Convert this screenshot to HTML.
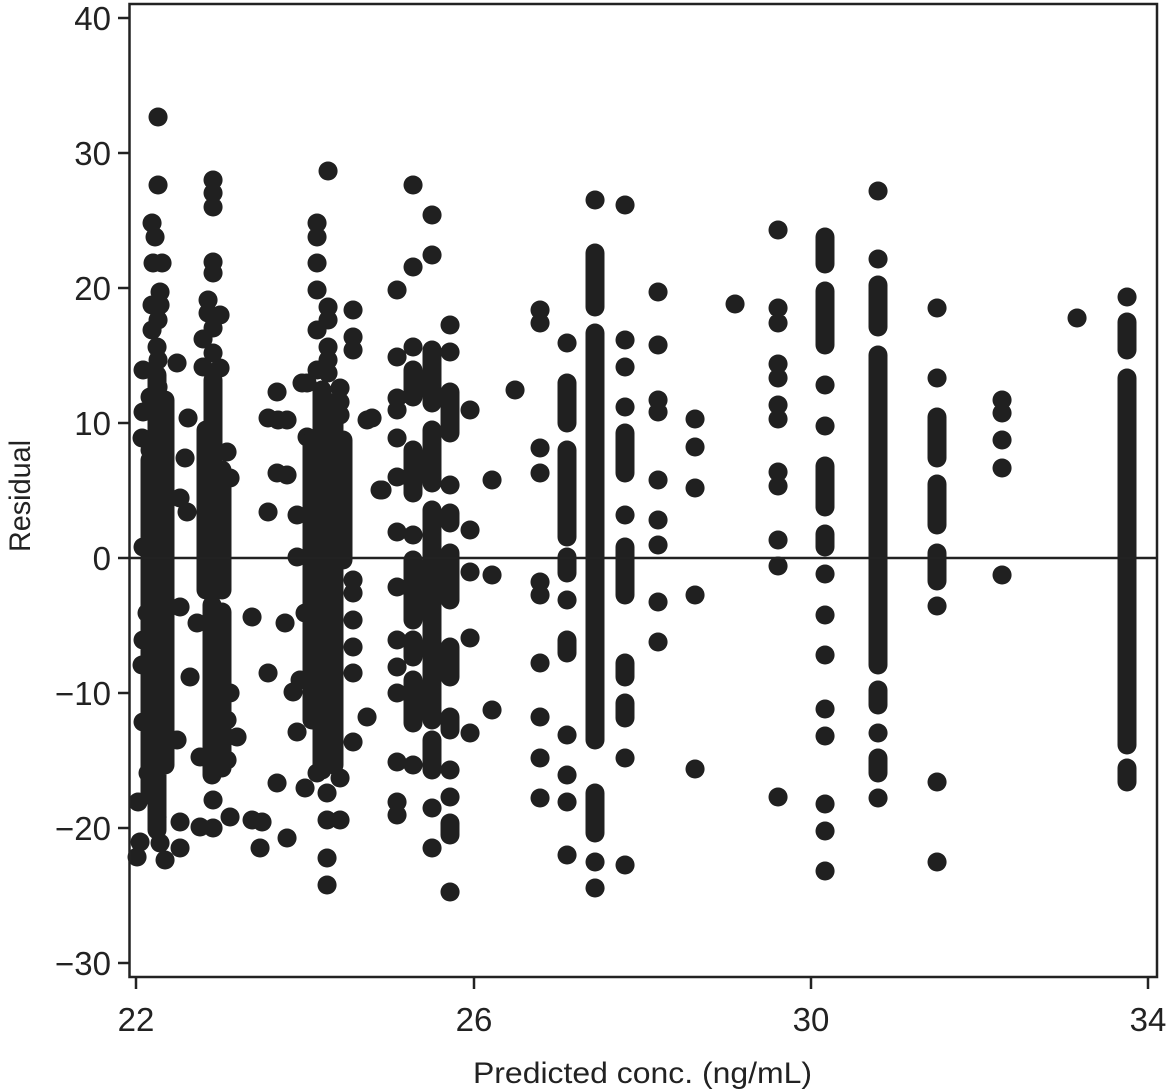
<!DOCTYPE html>
<html><head><meta charset="utf-8"><style>
html,body{margin:0;padding:0;background:#fff;}
svg{display:block;}
text{font-family:"Liberation Sans",sans-serif;fill:#222;}
</style></head><body>
<svg width="1171" height="1092" viewBox="0 0 1171 1092" xmlns="http://www.w3.org/2000/svg">
<rect width="1171" height="1092" fill="#fff"/>
<g fill="none" stroke="#202020" stroke-width="19" stroke-linecap="round">
<path d="M158 117h.1M158 185h.1M152 223h.1M155 237h.1M153 263h.1M162 263h.1M160 292h.1M152 305h.1M160 305h.1M158 320h.1M152 330h.1M157 347h.1M158 360h.1M143 370h.1M177 363h.1M158 387h.1M150 397h.1M143 412h.1M160 412h.1M142 438h.1M150 450h.1M188 418h.1M185 458h.1M180 498h.1M187 512h.1M143 547h.1M147 613h.1M143 640h.1M142 665h.1M143 722h.1M180 607h.1M177 740h.1M148 773h.1M138 802h.1M157 817h.1M180 822h.1M140 842h.1M137 857h.1M160 843h.1M165 860h.1M180 848h.1M150 790h.1
M157 375V830M165 400V765M150 460V795"/>
<path d="M213 180h.1M213 193h.1M213 207h.1M213 262h.1M213 273h.1M208 300h.1M208 313h.1M220 315h.1M213 328h.1M203 339h.1M213 353h.1M203 367h.1M220 368h.1M227 452h.1M230 478h.1M197 623h.1M190 677h.1M230 693h.1M237 737h.1M227 720h.1M227 760h.1M200 757h.1M213 800h.1M200 827h.1M213 828h.1M230 817h.1
M213 380V590M206 430V590M222 470V590M212 605V775M222 612V768"/>
<path d="M277 392h.1M268 418h.1M278 420h.1M287 420h.1M277 473h.1M287 475h.1M268 512h.1M252 617h.1M268 673h.1M252 820h.1M262 822h.1M260 848h.1M285 623h.1M297 515h.1M297 557h.1M287 838h.1M277 783h.1M302 383h.1M307 437h.1M317 448h.1M305 613h.1M293 692h.1M300 680h.1M297 732h.1M305 788h.1"/>
<path d="M328 171h.1M317 223h.1M317 237h.1M317 263h.1M317 290h.1M328 307h.1M328 320h.1M317 330h.1M328 347h.1M328 360h.1M328 373h.1M317 370h.1M307 383h.1M340 388h.1M328 402h.1M340 402h.1M340 415h.1M353 310h.1M353 337h.1M353 350h.1M367 420h.1M317 773h.1M340 778h.1M353 742h.1M353 673h.1M353 620h.1M353 647h.1M353 580h.1M353 593h.1M367 717h.1M327 858h.1M327 885h.1M327 793h.1M327 820h.1M340 820h.1M380 490h.1
M312 440V720M322 390V770M334 420V765M343 440V560"/>
<path d="M397 290h.1M397 357h.1M397 398h.1M397 410h.1M397 438h.1M397 477h.1M397 532h.1M397 587h.1M397 640h.1M397 667h.1M397 693h.1M397 762h.1M397 802h.1M397 815h.1M382 490h.1M372 418h.1
M413 185h.1M413 267h.1M413 347h.1M413 370V397M413 450V493M413 535h.1M413 560V620M413 640V657M413 680V723M413 765h.1
M432 215h.1M432 255h.1M432 350V403M432 430V483M432 510V720M432 740V770M432 808h.1M432 848h.1
M450 325h.1M450 352h.1M450 392V433M450 485h.1M450 513V523M450 553V600M450 647V677M450 717V730M450 770h.1M450 797h.1M450 823V835M450 892h.1
M470 410h.1M470 530h.1M470 572h.1M470 638h.1M470 733h.1M492 480h.1M492 575h.1M492 710h.1M515 390h.1"/>
<path d="M540 310h.1M540 323h.1M540 448h.1M540 473h.1M540 582h.1M540 595h.1M540 663h.1M540 717h.1M540 758h.1M540 798h.1
M567 343h.1M567 383V423M567 450V537M567 557V573M567 600h.1M567 640V653M567 735h.1M567 775h.1M567 802h.1M567 855h.1
M595 200h.1M595 253V307M595 333V740M595 793V833M595 862h.1M595 888h.1
M625 205h.1M625 340h.1M625 367h.1M625 407h.1M625 433V473M625 515h.1M625 547V595M625 663V677M625 703V718M625 758h.1M625 865h.1
M658 292h.1M658 345h.1M658 400h.1M658 412h.1M658 480h.1M658 520h.1M658 545h.1M658 602h.1M658 642h.1
M695 419h.1M695 447h.1M695 488h.1M695 595h.1M695 769h.1M735 304h.1"/>
<path d="M778 230h.1M778 308h.1M778 323h.1M778 364h.1M778 378h.1M778 405h.1M778 419h.1M778 472h.1M778 486h.1M778 540h.1M778 566h.1M778 797h.1
M825 237V264M825 291V345M825 385h.1M825 426h.1M825 466V507M825 534V547M825 574h.1M825 615h.1M825 655h.1M825 709h.1M825 736h.1M825 804h.1M825 831h.1M825 871h.1
M878 191h.1M878 259h.1M878 285V327M878 355V665M878 690V705M878 733h.1M878 758V773M878 798h.1
M937 308h.1M937 378h.1M937 417V458M937 484V525M937 553V581M937 606h.1M937 782h.1M937 862h.1
M1002 400h.1M1002 413h.1M1002 440h.1M1002 468h.1M1002 575h.1M1077 318h.1
M1127 297h.1M1127 322V350M1127 378V745M1127 768V782"/>
</g>
<g stroke="#222" stroke-width="2.5" fill="none">
<rect x="129.5" y="4" width="1027.5" height="973"/>
<line x1="129.5" y1="558" x2="1157" y2="558"/>
<path d="M118 18H130M118 153H130M118 288H130M118 423H130M118 558H130M118 693H130M118 828H130M118 963H130"/>
<path d="M136 977V989M474 977V989M811 977V989M1148 977V989"/>
</g>
<g font-size="33" text-anchor="end">
<text x="111" y="30">40</text>
<text x="111" y="165">30</text>
<text x="111" y="300">20</text>
<text x="111" y="435">10</text>
<text x="111" y="570">0</text>
<text x="111" y="705">−10</text>
<text x="111" y="840">−20</text>
<text x="111" y="975">−30</text>
</g>
<g font-size="33" text-anchor="middle">
<text x="136" y="1031">22</text>
<text x="474" y="1031">26</text>
<text x="811" y="1031">30</text>
<text x="1148" y="1031">34</text>
</g>
<text x="473" y="1083" font-size="30" textLength="339" lengthAdjust="spacingAndGlyphs">Predicted conc. (ng/mL)</text>
<text transform="translate(30,552) rotate(-90)" x="0" y="0" font-size="30" textLength="112" lengthAdjust="spacingAndGlyphs">Residual</text>
</svg>
</body></html>
